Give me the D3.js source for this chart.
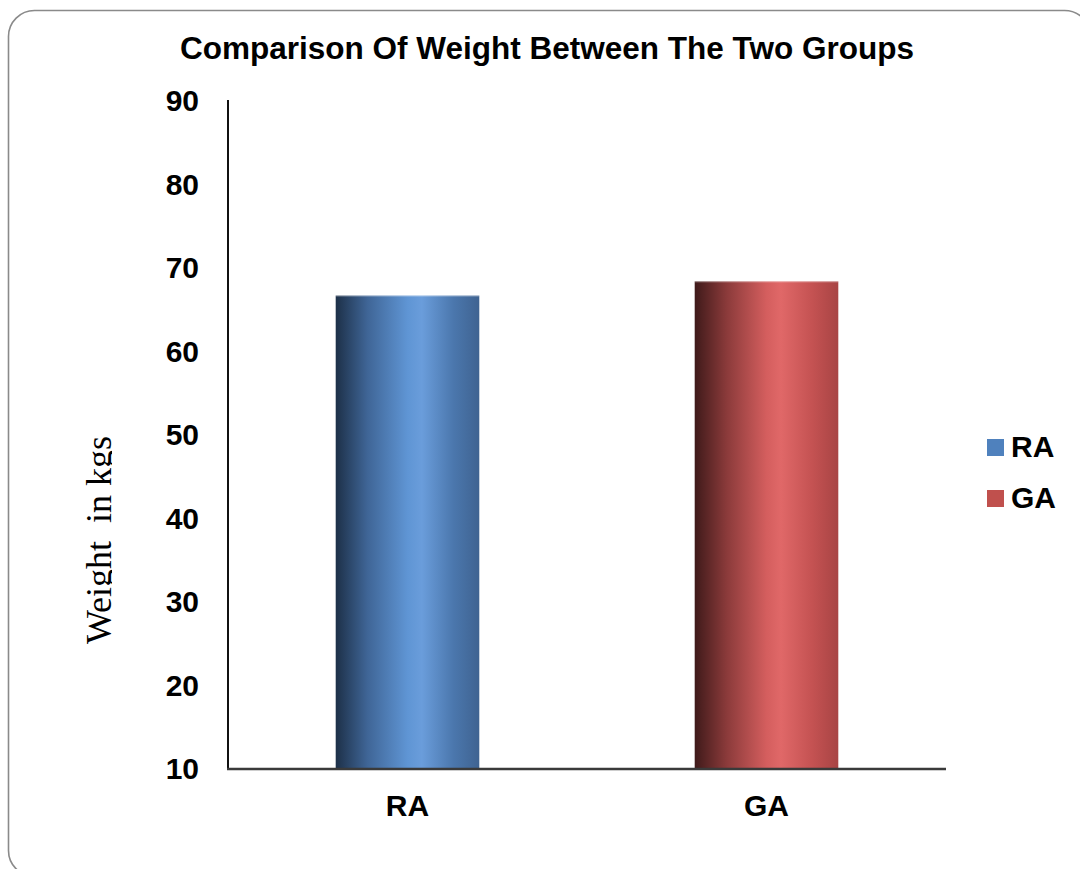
<!DOCTYPE html>
<html>
<head>
<meta charset="utf-8">
<script src="https://cdn.jsdelivr.net/npm/d3@7"></script>
<style>
  html, body { margin: 0; padding: 0; background: #fff; }
  svg { display: block; }
</style>
</head>
<body>
<svg id="chart" width="1080" height="869"></svg>
<script>
// Chart data
const categories = ["RA", "GA"];
const weights = [66.7, 68.4];
const yTicks = [10, 20, 30, 40, 50, 60, 70, 80, 90];
const titleText = "Comparison Of Weight Between The Two Groups";
const yLabel = "Weight  in kgs";

// Bar shading: dark edge -> highlight -> medium edge
const gradients = {
  RA: ["#1d3048", "#3f6596", "#5f95d4", "#6a9ddb", "#4b77ad", "#3f6391"],
  GA: ["#3f1a1a", "#8a3a3a", "#d45e5e", "#e06868", "#c45252", "#a84444"]
};
const legendColors = { RA: "#4f81bd", GA: "#c0504d" };

const svg = d3.select("#chart");
const margin = { left: 228, right: 134, top: 101, bottom: 100 };
const H = 869;
const sans = "Liberation Sans, Arial, sans-serif";

// Outer rounded frame
svg.append("rect")
  .attr("x", 8.5).attr("y", 10.5)
  .attr("width", 1082).attr("height", 866)
  .attr("rx", 26).attr("ry", 26)
  .attr("fill", "#fff")
  .attr("stroke", "#8a8a8a").attr("stroke-width", 1.6);

const defs = svg.append("defs");
categories.forEach(c => {
  const g = defs.append("linearGradient").attr("id", "grad-" + c)
    .attr("x1", "0%").attr("x2", "100%").attr("y1", "0%").attr("y2", "0%");
  const stops = [0, 0.22, 0.5, 0.6, 0.82, 1];
  gradients[c].forEach((col, i) => {
    g.append("stop").attr("offset", (stops[i] * 100) + "%").attr("stop-color", col);
  });
});
defs.append("clipPath").attr("id", "ylabel-clip")
  .append("rect").attr("x", 0).attr("y", 0).attr("width", 112).attr("height", H);

const x = d3.scaleBand()
  .domain(categories)
  .range([margin.left, 946])
  .paddingInner(0.6)
  .paddingOuter(0.3);

const y = d3.scaleLinear()
  .domain([10, 90])
  .range([769, 101]);

// Title
svg.append("text")
  .attr("x", 547).attr("y", 59)
  .attr("text-anchor", "middle")
  .attr("font-family", sans)
  .attr("font-weight", "bold")
  .attr("font-size", 31.5)
  .text(titleText);

// Bars
const barData = categories.map((c, i) => ({ c, v: weights[i] }));
svg.selectAll("rect.bar")
  .data(barData)
  .enter().append("rect")
  .attr("class", "bar")
  .attr("x", d => x(d.c))
  .attr("width", x.bandwidth())
  .attr("y", d => y(d.v))
  .attr("height", d => y(10) - y(d.v))
  .attr("fill", d => "url(#grad-" + d.c + ")");

// Light cap on top of bars
svg.selectAll("line.cap")
  .data(barData)
  .enter().append("line")
  .attr("x1", d => x(d.c)).attr("x2", d => x(d.c) + x.bandwidth())
  .attr("y1", d => y(d.v) + 0.5).attr("y2", d => y(d.v) + 0.5)
  .attr("stroke", "#ffffff").attr("stroke-opacity", 0.35).attr("stroke-width", 1);

// Y axis
const yAxis = svg.append("g")
  .attr("transform", `translate(${margin.left},0)`)
  .call(d3.axisLeft(y).tickValues(yTicks).tickSize(0).tickPadding(29));
yAxis.select(".domain").attr("stroke", "#111").attr("stroke-width", 2).attr("d", `M0,${y(90) - 1}V${y(10)}`);
yAxis.selectAll("text")
  .attr("font-family", sans)
  .attr("font-weight", "bold")
  .attr("font-size", 30)
  .attr("fill", "#000");

// X axis
const xAxis = svg.append("g")
  .attr("transform", `translate(0,${y(10)})`)
  .call(d3.axisBottom(x).tickSize(0).tickPadding(26));
xAxis.select(".domain").attr("stroke", "#3a3a3a").attr("stroke-width", 2.5).attr("d", `M${margin.left - 1},0H946`);
xAxis.selectAll("text")
  .attr("font-family", sans)
  .attr("font-weight", "bold")
  .attr("font-size", 30)
  .attr("fill", "#000");

// Y axis title (serif, rotated, descenders clipped)
svg.append("g").attr("clip-path", "url(#ylabel-clip)")
  .append("text")
  .attr("transform", "translate(111,540) rotate(-90)")
  .attr("text-anchor", "middle")
  .attr("font-family", "Liberation Serif, Times New Roman, serif")
  .attr("font-size", 36)
  .attr("fill", "#000")
  .style("white-space", "pre")
  .text(yLabel);

// Legend
const legend = svg.append("g");
categories.forEach((c, i) => {
  const ly = 439 + i * 51;
  legend.append("rect")
    .attr("x", 987).attr("y", ly)
    .attr("width", 17).attr("height", 17)
    .attr("fill", legendColors[c]);
  legend.append("text")
    .attr("x", 1011).attr("y", ly + 18)
    .attr("font-family", sans)
    .attr("font-weight", "bold")
    .attr("font-size", 30)
    .text(c);
});
</script>
</body>
</html>
